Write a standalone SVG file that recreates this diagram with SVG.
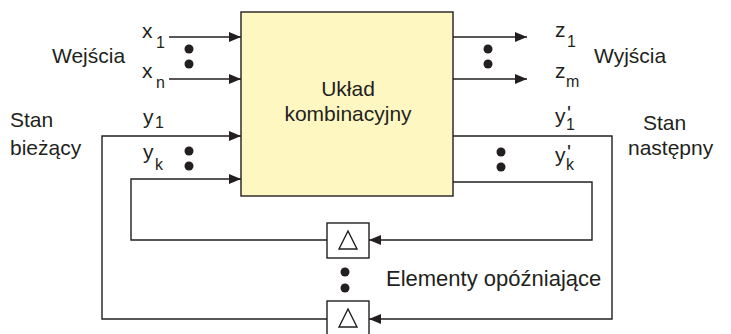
<svg xmlns="http://www.w3.org/2000/svg" width="731" height="334" viewBox="0 0 731 334">
  <style>
    .wire { fill: none; stroke: #231f20; stroke-width: 1.4; }
    .lbl { font-family: "Liberation Sans", Arial, sans-serif; font-size: 21px; fill: #231f20; }
    .sub { font-size: 16px; }
    .dot { fill: #231f20; }
    .delay { fill: #ffffff; stroke: #231f20; stroke-width: 1.4; }
  </style>
  <defs>
    <marker id="arrow" viewBox="0 0 12 10" refX="12" refY="5" markerWidth="12" markerHeight="10" markerUnits="userSpaceOnUse" orient="auto">
      <path d="M0,0 L12,5 L0,10 Z" fill="#231f20"/>
    </marker>
  </defs>

  <!-- connectors -->
  <g id="connectors">
    <!-- primary inputs -->
    <line class="wire" x1="169" y1="37" x2="241" y2="37" marker-end="url(#arrow)"/>
    <line class="wire" x1="169" y1="79" x2="241" y2="79" marker-end="url(#arrow)"/>
    <!-- primary outputs -->
    <line class="wire" x1="453" y1="37" x2="527" y2="37" marker-end="url(#arrow)"/>
    <line class="wire" x1="453" y1="79" x2="527" y2="79" marker-end="url(#arrow)"/>
    <!-- feedback y1 (outer loop) -->
    <polyline class="wire" points="453,136 612,136 612,319 369,319" marker-end="url(#arrow)"/>
    <polyline class="wire" points="327,319 102,319 102,136 241,136" marker-end="url(#arrow)"/>
    <!-- feedback yk (inner loop) -->
    <polyline class="wire" points="453,182 592,182 592,240 369,240" marker-end="url(#arrow)"/>
    <polyline class="wire" points="327,240 131,240 131,179 241,179" marker-end="url(#arrow)"/>
    <!-- ellipsis dots -->
    <circle class="dot" cx="189" cy="49" r="4.5"/>
    <circle class="dot" cx="189" cy="64" r="4.5"/>
    <circle class="dot" cx="189" cy="151" r="4.5"/>
    <circle class="dot" cx="189" cy="166" r="4.5"/>
    <circle class="dot" cx="488" cy="49" r="4.5"/>
    <circle class="dot" cx="488" cy="64" r="4.5"/>
    <circle class="dot" cx="501" cy="152" r="4.5"/>
    <circle class="dot" cx="501" cy="167" r="4.5"/>
    <circle class="dot" cx="345" cy="272" r="4.5"/>
    <circle class="dot" cx="345" cy="288" r="4.5"/>
  </g>

  <!-- combinational block -->
  <g id="combinational">
    <rect x="241" y="12" width="212" height="184" fill="#fff7c2" stroke="#231f20" stroke-width="1.4"/>
    <text class="lbl" x="348" y="96" text-anchor="middle">Układ</text>
    <text class="lbl" x="348" y="121" text-anchor="middle">kombinacyjny</text>
  </g>

  <!-- delay elements -->
  <g id="delay1">
    <rect class="delay" x="327" y="223" width="42" height="35"/>
    <path class="wire" d="M348,231 L357,249 L339,249 Z"/>
  </g>
  <g id="delay2">
    <rect class="delay" x="327" y="301" width="42" height="35"/>
    <path class="wire" d="M348,309 L357,327 L339,327 Z"/>
  </g>

  <!-- signal labels -->
  <g id="labels">
    <text class="lbl" x="52" y="63">Wejścia</text>
    <text class="lbl" x="594" y="63">Wyjścia</text>
    <text class="lbl" x="10" y="127">Stan</text>
    <text class="lbl" x="10" y="155">bieżący</text>
    <text class="lbl" x="643" y="130">Stan</text>
    <text class="lbl" x="628" y="155">następny</text>
    <text class="lbl" x="386" y="286" style="font-size:22px">Elementy opóźniające</text>

    <text class="lbl" x="142" y="38">x<tspan class="sub" x="156" y="48">1</tspan></text>
    <text class="lbl" x="142" y="78">x<tspan class="sub" x="156" y="88">n</tspan></text>
    <text class="lbl" x="143" y="124">y<tspan class="sub" x="155" y="128">1</tspan></text>
    <text class="lbl" x="143" y="159">y<tspan class="sub" x="155" y="170">k</tspan></text>

    <text class="lbl" x="555" y="37">z<tspan class="sub" x="567" y="47">1</tspan></text>
    <text class="lbl" x="555" y="78">z<tspan class="sub" x="566" y="87">m</tspan></text>
    <text class="lbl" x="555" y="123">y<tspan class="sub" x="566" y="130">1</tspan><tspan x="567" y="120">'</tspan></text>
    <text class="lbl" x="555" y="162">y<tspan class="sub" x="566" y="170">k</tspan><tspan x="567" y="159">'</tspan></text>
  </g>
</svg>
